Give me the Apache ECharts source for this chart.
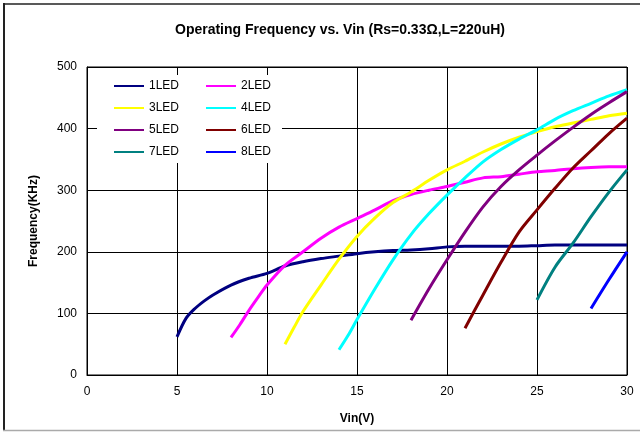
<!DOCTYPE html>
<html>
<head>
<meta charset="utf-8">
<script src="https://cdn.jsdelivr.net/npm/echarts@6/dist/echarts.min.js"></script>
<style>html,body{margin:0;padding:0;background:#fff;}#c{width:640px;height:432px;}</style>
</head>
<body>
<div id="c"></div>
<script>
var seriesNames = ['1LED','2LED','3LED','4LED','5LED','6LED','7LED','8LED'];
var xTicks = [0,5,10,15,20,25,30];
var yTicks = [0,100,200,300,400,500];
var led1 = [[5,62],[5.5,92],[6,108],[6.5,120],[7,130],[8,146],[9,157],[10,165],[11,177],[12,184],[13,189],[14,193],[15,197],[16,200],[17,202],[18,203],[19,205],[20,208],[21,209],[22,209],[23,209],[24,209],[25,210],[26,211],[27,211],[28,211],[29,211],[30,211]];
var led2 = [[8,61],[8.5,82],[9,105],[9.5,126],[10,146],[11,178],[12,200],[13,222],[14,240],[15,254],[16,268],[17,283],[18,293],[19,300],[20,306],[21,313],[22,320],[23,322],[24,326],[25,330],[26,332],[27,335],[28,337],[29,338],[30,338]];
var led3 = [[11,50],[11.5,77],[12,103],[13,146],[14,188],[15,225],[16,255],[17,280],[18,297],[19,316],[20,333],[21,347],[22,362],[23,375],[24,386],[25,395],[26,403],[27,409],[28,415],[29,421],[30,425]];
var led4 = [[14,41],[14.5,64],[15,90],[16,140],[17,187],[18,228],[19,262],[20,292],[21,320],[22,346],[23,366],[24,383],[25,398],[26,415],[27,429],[28,441],[29,453],[30,463]];
var led5 = [[18,89],[19,140],[20,187],[21,232],[22,273],[23,306],[24,333],[25,357],[26,380],[27,402],[28,423],[29,442],[30,460]];
var led6 = [[21,76],[22,130],[23,183],[24,232],[25,268],[26,303],[27,336],[28,364],[29,392],[30,417]];
var led7 = [[25,122],[26,175],[27,214],[28,257],[29,297],[30,333]];
var led8 = [[28,108],[29,155],[30,200]];
var seriesData = [led1,led2,led3,led4,led5,led6,led7,led8];
var colors = ['#000080','#FF00FF','#FFFF00','#00FFFF','#800080','#800000','#008080','#0000FF'];

var FONT = 'Liberation Sans';
var chart = echarts.init(document.getElementById('c'));
var series = seriesNames.map(function(n,i){
  return {
    name: n, type: 'line', data: seriesData[i], symbol: 'none', smooth: 0.3,
    lineStyle: {width: 3, color: colors[i]}, itemStyle: {color: colors[i]}, z: 2
  };
});
var legendCommon = {
  orient: 'vertical', top: 80, padding: 0, itemWidth: 30, itemHeight: 12, itemGap: 10,
  itemStyle: {opacity: 0},
  textStyle: {fontFamily: FONT, fontSize: 12, color: '#000'}, selectedMode: false
};
chart.setOption({
  backgroundColor: '#fff',
  animation: false,
  color: colors,
  title: {
    text: 'Operating Frequency vs. Vin (Rs=0.33\u03A9,L=220uH)',
    left: 170, top: 18,
    textStyle: {fontFamily: FONT, fontSize: 14, fontWeight: 'bold', color: '#000'}
  },
  legend: [
    Object.assign({left: 113, data: ['1LED','3LED','5LED','7LED']}, legendCommon),
    Object.assign({left: 205, data: ['2LED','4LED','6LED','8LED']}, legendCommon)
  ],
  grid: {left: 87, right: 13, top: 67, bottom: 57, show: true, borderColor: '#000', borderWidth: 1, backgroundColor: 'transparent'},
  xAxis: {
    type: 'value', min: xTicks[0], max: xTicks[xTicks.length-1], interval: 5,
    name: 'Vin(V)', nameLocation: 'middle', nameGap: 38,
    nameTextStyle: {fontFamily: FONT, fontSize: 12, fontWeight: 'bold', color: '#000'},
    axisLine: {show: true, lineStyle: {color: '#000', width: 1}},
    axisTick: {show: false},
    axisLabel: {fontFamily: FONT, fontSize: 12, color: '#000', margin: 11},
    splitLine: {show: true, lineStyle: {color: '#000', width: 1}}
  },
  yAxis: {
    type: 'value', min: yTicks[0], max: yTicks[yTicks.length-1], interval: 100,
    name: 'Frequency(KHz)', nameLocation: 'middle', nameGap: 47,
    nameTextStyle: {fontFamily: FONT, fontSize: 12, fontWeight: 'bold', color: '#000'},
    axisLine: {show: true, lineStyle: {color: '#000', width: 1}},
    axisTick: {show: false},
    axisLabel: {fontFamily: FONT, fontSize: 12, color: '#000', margin: 10},
    splitLine: {show: true, lineStyle: {color: '#000', width: 1}}
  },
  graphic: [
    {type: 'rect', z: 1, shape: {x: 97, y: 75, width: 185, height: 88}, style: {fill: '#fff'}},
    {type: 'line', z: 5, shape: {x1: 4, y1: 3, x2: 4, y2: 431}, style: {stroke: '#222', lineWidth: 2}},
    {type: 'line', z: 5, shape: {x1: 3, y1: 4, x2: 640, y2: 4}, style: {stroke: '#222', lineWidth: 1.5}},
    {type: 'line', z: 5, shape: {x1: 3, y1: 430.5, x2: 640, y2: 430.5}, style: {stroke: '#aaa', lineWidth: 1.5}}
  ],
  series: series
});
</script>
</body>
</html>
